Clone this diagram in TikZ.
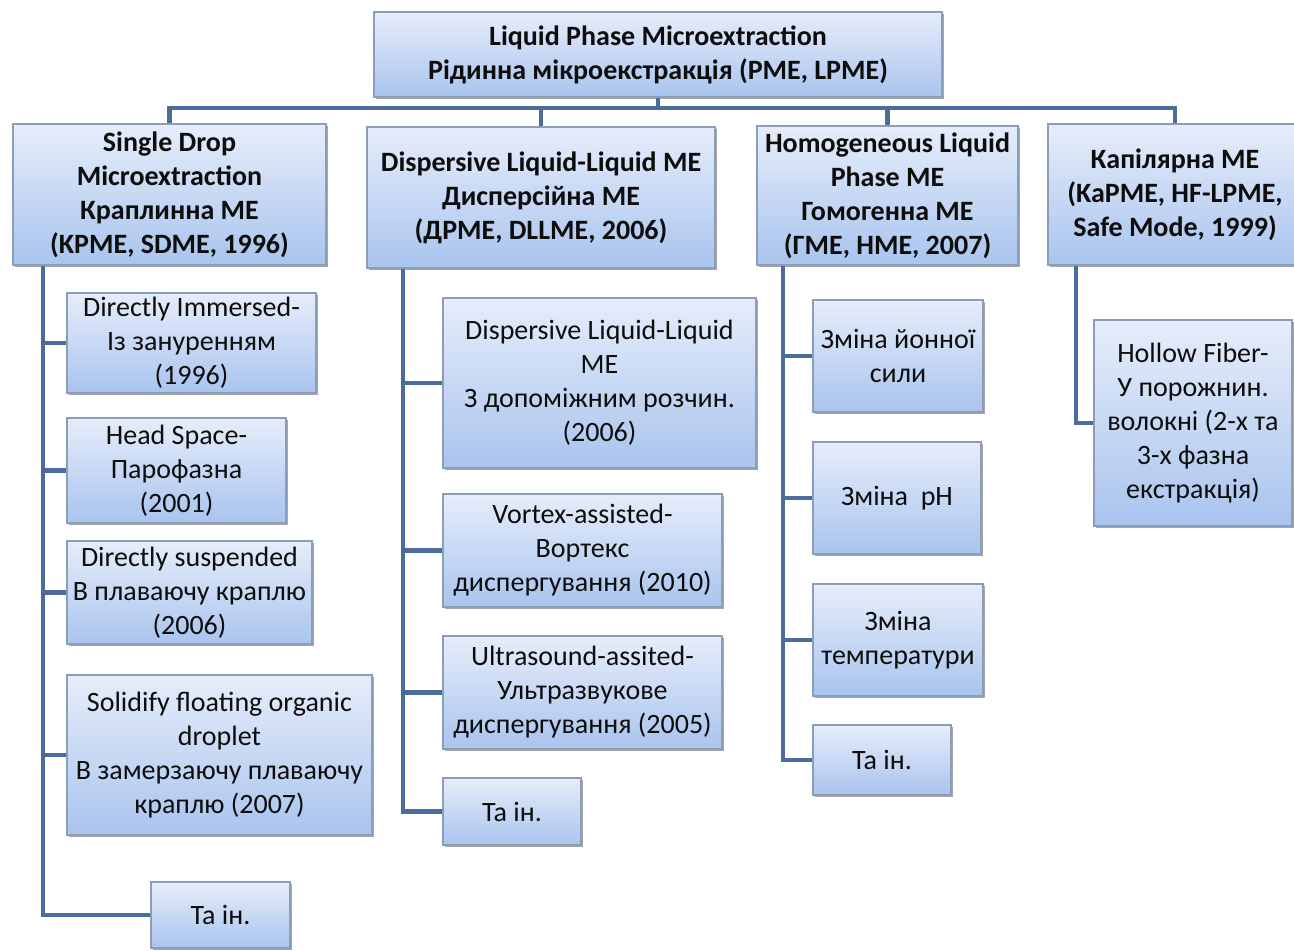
\documentclass[tikz,border=0pt]{standalone}
\usepackage{fontspec}
\setmainfont{Carlito}
\usetikzlibrary{shadows}
\definecolor{linkblue}{HTML}{4A6B9C}
\definecolor{boxtop}{HTML}{E6EDFA}
\definecolor{boxbot}{HTML}{A9C4EE}
\definecolor{boxline}{HTML}{8C9DB8}
\tikzset{
  box/.style={draw=boxline,line width=1.1pt,top color=boxtop,bottom color=boxbot,
    align=center,inner sep=0pt,text=black!95,
    font=\fontsize{21}{25.5}\selectfont,
    drop shadow={shadow xshift=1.6pt,shadow yshift=-1.6pt,fill=black,opacity=0.35}},
  head/.style={box,font=\fontsize{21}{25.5}\selectfont\bfseries},
  sz/.style 2 args={minimum width=#1*0.75pt,minimum height=#2*0.75pt},
  link/.style={draw=linkblue,line width=3.2pt}
}
\begin{document}
\begin{tikzpicture}[x=0.75pt,y=-0.75pt]
\useasboundingbox (0,0) rectangle (1294,950);
\clip (0,0) rectangle (1294,950);
% top
\node[head,sz={568}{85}] (root) at (658,54.5) {Liquid Phase Microextraction\\Рідинна мікроекстракція (PME, LPME)};
\coordinate (bar) at (0,108);
% level 1
\node[head,sz={313}{141}] (sd) at (169.5,194.5) {Single Drop\\Microextraction\\Краплинна ME\\(KPME, SDME, 1996)};
\node[head,sz={348}{141}] (dl) at (541,197.5) {Dispersive Liquid-Liquid ME\\Дисперсійна ME\\(ДPME, DLLME, 2006)};
\node[head,sz={261}{139}] (hl) at (887.5,195.5) {Homogeneous Liquid\\Phase ME\\Гомогенна ME\\(ГME, HME, 2007)};
\node[head,sz={254}{141}] (cap) at (1175,194.5) {Капілярна ME\\(KaPME, HF-LPME,\\Safe Mode, 1999)};
% single drop
\node[box,sz={249}{100}] (sd1) at (191.5,343) {Directly Immersed-\\Із зануренням\\(1996)};
\node[box,sz={219}{105}] (sd2) at (176.5,470.5) {Head Space-\\Парофазна\\(2001)};
\node[box,sz={245}{103}] (sd3) at (189.5,592.5) {Directly suspended\\В плаваючу краплю\\(2006)};
\node[box,sz={305}{160}] (sd4) at (219.5,755) {Solidify floating organic\\droplet\\В замерзаючу плаваючу\\краплю (2007)};
\node[box,sz={139}{66}] (sd5) at (220.5,915) {Та ін.};
% dispersive
\node[box,sz={313}{170}] (dl1) at (599.5,383) {Dispersive Liquid-Liquid\\ME\\З допоміжним розчин.\\(2006)};
\node[box,sz={279}{113}] (dl2) at (582.5,550.5) {Vortex-assisted-\\Вортекс\\диспергування (2010)};
\node[box,sz={279}{113}] (dl3) at (582.5,692.5) {Ultrasound-assited-\\Ультразвукове\\диспергування (2005)};
\node[box,sz={138}{67}] (dl4) at (512,811.5) {Та ін.};
% homogeneous
\node[box,sz={170}{112}] (hl1) at (898,356) {Зміна йонної\\сили};
\node[box,sz={168}{112}] (hl2) at (897,498) {Зміна~~pH};
\node[box,sz={170}{112}] (hl3) at (898,640) {Зміна\\температури};
\node[box,sz={138}{70}] (hl4) at (882,760) {Та ін.};
% capillary
\node[box,sz={198}{206}] (cap1) at (1193,423) {Hollow Fiber-\\У порожнин.\\волокні (2-х та\\3-х фазна\\екстракція)};
% connectors
\foreach \n in {sd,dl,hl,cap}
  \draw[link] (root.south) -- (root.south |- bar) -| (\n.north);
\coordinate (sdx) at (43,0);
\coordinate (dlx) at (403,0);
\coordinate (hlx) at (783,0);
\coordinate (capx) at (1076,0);
\foreach \c in {sd1,sd2,sd3,sd4,sd5}
  \draw[link] (sd.south -| sdx) |- (\c.west);
\foreach \c in {dl1,dl2,dl3,dl4}
  \draw[link] (dl.south -| dlx) |- (\c.west);
\foreach \c in {hl1,hl2,hl3,hl4}
  \draw[link] (hl.south -| hlx) |- (\c.west);
\draw[link] (cap.south -| capx) |- (cap1.west);
\end{tikzpicture}
\end{document}
